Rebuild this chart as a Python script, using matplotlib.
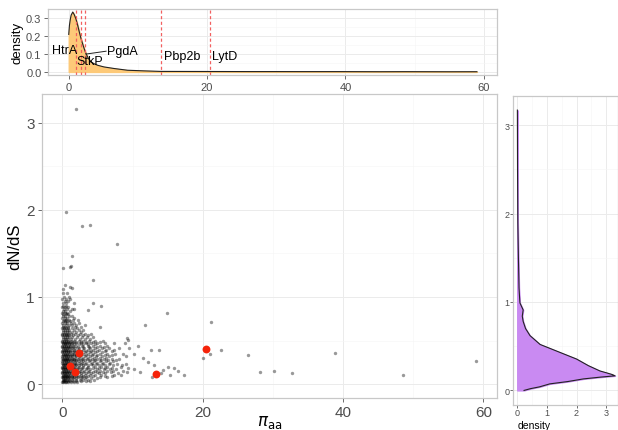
import matplotlib
matplotlib.use("Agg")
import matplotlib.pyplot as plt
from matplotlib.ticker import MultipleLocator

plt.rcParams['font.family'] = ['Liberation Sans', 'DejaVu Sans']

# density of pi_aa (top panel)
pi_grid = [0, 0.1, 0.23, 0.35, 0.58, 0.8, 1.05, 1.3, 1.53, 1.75, 2.0, 2.25, 2.5, 2.8, 3.2, 3.7,
           4.2, 5.1, 6.6, 8.5, 10.9, 13.3, 20, 26, 30, 33, 39, 45, 48.5, 55, 59]
pi_density = [0.21, 0.26, 0.295, 0.318, 0.335, 0.32, 0.295, 0.26, 0.223, 0.19, 0.158, 0.128,
              0.102, 0.078, 0.056, 0.045, 0.037, 0.028, 0.019, 0.0095, 0.006, 0.003, 0.0025,
              0.002, 0.002, 0.0018, 0.0018, 0.0012, 0.0015, 0.001, 0.0012]

# density of dN/dS (right panel)
dnds_grid = [0, 0.02, 0.04, 0.074, 0.10, 0.13, 0.15, 0.165, 0.18, 0.20, 0.22, 0.28, 0.355, 0.43,
             0.52, 0.62, 0.70, 0.78, 0.84, 0.91, 0.99, 1.16, 1.5, 1.9, 2.5, 3.17]
dnds_density = [0.23, 0.45, 0.75, 1.1, 1.7, 2.23, 2.8, 3.3, 3.2, 3.0, 2.79, 2.4, 2.0, 1.44,
                0.77, 0.43, 0.28, 0.2, 0.17, 0.2, 0.09, 0.06, 0.04, 0.02, 0.01, 0.005]

# highlighted genes
gene_names = ['HtrA', 'StkP', 'PgdA', 'Pbp2b', 'LytD']
gene_pi = [1.1, 1.8, 2.4, 13.4, 20.4]
gene_dnds = [0.205, 0.14, 0.36, 0.114, 0.40]
label_x = [-0.6, 3.1, 7.8, 13.7, 20.7]
label_y = [0.123, 0.059, 0.115, 0.091, 0.091]

# dense cloud near the origin, row by row: (dN/dS, [pi_aa ...])
core_rows = [
    (0.02, [0.0, 0.1, 0.3, 0.5, 0.8, 1.2, 1.6, 2.1]),
    (0.05, [0.05, 0.2, 0.4, 0.7, 1.0, 1.4, 1.9, 2.5, 3.0, 3.6, 4.5]),
    (0.08, [0.0, 0.15, 0.35, 0.6, 0.9, 1.3, 1.7, 2.2, 2.8, 3.4, 5.4, 6.3]),
    (0.11, [0.1, 0.3, 0.5, 0.8, 1.1, 1.5, 2.0, 2.6, 3.2, 3.9, 4.6, 5.5, 7.4, 8.3]),
    (0.14, [0.0, 0.2, 0.45, 0.7, 1.0, 1.4, 1.8, 2.3, 2.9, 3.6, 4.3, 4.9, 5.8, 6.9, 9.2]),
    (0.17, [0.1, 0.3, 0.55, 0.85, 1.2, 1.6, 2.1, 2.7, 3.3, 4.0, 5.0, 5.9, 6.8, 7.7, 10.2]),
    (0.20, [0.0, 0.2, 0.4, 0.65, 0.95, 1.3, 1.75, 2.3, 2.9, 3.7, 4.6, 5.5, 6.4, 8.4]),
    (0.23, [0.1, 0.35, 0.6, 0.9, 1.2, 1.6, 2.0, 2.6, 3.2, 4.1, 4.8, 5.6, 6.6, 7.8, 9.0]),
    (0.26, [0.0, 0.25, 0.5, 0.8, 1.1, 1.5, 1.9, 2.4, 3.0, 3.8, 4.5, 5.3, 6.2, 7.2]),
    (0.29, [0.1, 0.3, 0.6, 0.9, 1.3, 1.7, 2.2, 2.8, 3.5, 4.2, 5.0, 5.9, 7.0, 8.1]),
    (0.32, [0.0, 0.2, 0.45, 0.75, 1.05, 1.4, 1.9, 2.5, 3.2, 4.0, 4.8, 5.7, 6.7, 9.1]),
    (0.35, [0.1, 0.35, 0.6, 0.9, 1.3, 1.7, 2.2, 2.9, 3.6, 4.4, 5.3, 6.3, 7.5, 8.6]),
    (0.38, [0.0, 0.25, 0.5, 0.8, 1.15, 1.6, 2.1, 2.7, 3.4, 4.1, 5.0, 6.0, 7.1]),
    (0.41, [0.1, 0.3, 0.6, 0.95, 1.3, 1.8, 2.4, 3.1, 3.9, 4.7, 5.6, 6.7, 8.0, 9.5]),
    (0.44, [0.0, 0.2, 0.45, 0.75, 1.1, 1.5, 2.0, 2.8, 3.6, 4.4, 5.3, 6.4]),
    (0.47, [0.1, 0.35, 0.65, 1.0, 1.4, 1.9, 2.6, 3.3, 4.1, 5.0, 6.1, 7.3]),
    (0.50, [0.0, 0.25, 0.5, 0.85, 1.2, 1.7, 2.3, 3.0, 3.8, 4.7, 5.8]),
    (0.54, [0.1, 0.3, 0.6, 0.95, 1.4, 2.1, 2.8, 3.5, 4.4]),
    (0.58, [0.0, 0.2, 0.5, 0.8, 1.2, 1.8, 2.5, 3.2, 4.1]),
    (0.62, [0.05, 0.3, 0.6, 1.0, 1.6, 2.3, 3.0]),
    (0.66, [0.1, 0.4, 0.8, 1.8, 2.6]),
    (0.70, [0.0, 0.3, 0.7, 1.2, 1.7, 2.4]),
    (0.74, [0.2, 0.5, 0.9, 1.5, 2.2]),
    (0.78, [0.1, 0.4, 1.0, 1.4]),
    (0.82, [0.0, 0.3, 0.7]),
    (0.86, [0.2, 0.6, 1.3, 1.6]),
    (0.90, [0.1, 0.5]),
    (0.95, [0.3, 0.8]),
    (1.00, [0.2, 0.9]),
    (1.05, [0.1, 0.6]),
]

# second pass over the same cloud, between the rows above
between_rows = [
    (0.035, [0.05, 0.25, 0.55, 0.85, 1.15, 1.5, 2.0, 2.6, 3.3, 4.0]),
    (0.065, [0.1, 0.3, 0.5, 0.75, 1.1, 1.5, 2.0, 2.6, 3.2, 4.1, 5.0]),
    (0.095, [0.05, 0.25, 0.45, 0.7, 1.0, 1.4, 1.9, 2.4, 3.0, 3.7, 4.4, 6.0, 7.0]),
    (0.125, [0.0, 0.2, 0.4, 0.65, 0.95, 1.25, 1.65, 2.1, 2.7, 3.4, 4.1, 5.2, 6.1, 7.9]),
    (0.155, [0.05, 0.25, 0.5, 0.75, 1.05, 1.45, 1.9, 2.5, 3.1, 3.8, 4.6, 5.4, 6.4, 7.2, 8.6]),
    (0.185, [0.0, 0.15, 0.35, 0.6, 0.9, 1.25, 1.65, 2.2, 2.8, 3.5, 4.3, 5.2, 6.1, 7.0, 9.4]),
    (0.215, [0.05, 0.25, 0.5, 0.8, 1.1, 1.5, 1.9, 2.4, 3.0, 3.6, 4.4, 5.2, 6.0, 7.2, 8.5]),
    (0.245, [0.0, 0.2, 0.45, 0.7, 1.0, 1.35, 1.8, 2.3, 2.8, 3.4, 4.2, 4.9, 5.8, 6.8]),
    (0.275, [0.05, 0.3, 0.55, 0.85, 1.2, 1.6, 2.0, 2.6, 3.2, 3.9, 4.7, 5.5, 6.5, 7.6]),
    (0.305, [0.0, 0.2, 0.45, 0.7, 1.0, 1.4, 1.8, 2.3, 3.0, 3.7, 4.5, 5.3, 6.2]),
    (0.335, [0.05, 0.3, 0.55, 0.85, 1.2, 1.6, 2.0, 2.6, 3.4, 4.2, 5.0, 6.0, 7.0]),
    (0.365, [0.0, 0.2, 0.45, 0.75, 1.05, 1.45, 1.9, 2.5, 3.2, 3.9, 4.7, 5.6]),
    (0.395, [0.05, 0.3, 0.55, 0.85, 1.2, 1.6, 2.2, 2.9, 3.6, 4.4, 5.2, 6.2, 7.4]),
    (0.425, [0.0, 0.2, 0.45, 0.75, 1.1, 1.5, 2.2, 3.0, 3.8, 4.9, 5.9]),
    (0.455, [0.05, 0.3, 0.55, 0.9, 1.25, 1.7, 2.3, 3.0, 3.7, 4.6]),
    (0.485, [0.0, 0.2, 0.45, 0.75, 1.1, 1.5, 2.0, 2.7, 3.4, 4.3, 5.3]),
    (0.52, [0.05, 0.3, 0.55, 0.85, 1.25, 1.8, 2.5, 3.2, 3.9]),
    (0.56, [0.0, 0.25, 0.45, 0.7, 1.0, 1.5, 2.2, 2.9, 3.7]),
    (0.60, [0.1, 0.35, 0.65, 0.9, 1.3, 2.0, 2.7]),
    (0.64, [0.0, 0.2, 0.5, 0.85, 1.3, 2.1]),
    (0.68, [0.15, 0.45, 0.9, 1.4, 2.0, 3.2]),
    (0.72, [0.05, 0.35, 0.6, 1.1]),
    (0.76, [0.0, 0.3, 0.7, 1.7]),
    (0.80, [0.15, 0.5, 0.85]),
    (0.84, [0.05, 0.4, 1.1]),
    (0.88, [0.0, 0.35, 0.8]),
    (0.93, [0.15, 0.55, 1.6]),
    (0.98, [0.0, 0.45, 1.1]),
]

# scattered genes away from the cloud
sparse_pi = [9.2, 9.4, 12.6, 13.7, 17.3, 15.9, 15.4, 14.3, 15.0, 11.5, 12.2, 10.8, 13.0, 14.0,
             16.5, 11.0, 12.8, 10.2, 8.9, 5.4, 3.7, 5.5, 4.4, 11.8, 14.9, 21.2, 20.1, 21.0,
             22.6, 26.5, 28.2, 30.2, 32.7, 38.9, 48.5, 59.0,
             1.92, 0.54, 2.82, 3.96, 7.75, 1.3, 0.07, 1.1, 1.2, 4.4, 0.35, 1.07, 1.3, 0.07]
sparse_dnds = [0.53, 0.51, 0.39, 0.39, 0.11, 0.19, 0.11, 0.16, 0.20, 0.30, 0.25, 0.44, 0.22, 0.13,
               0.15, 0.14, 0.08, 0.35, 0.47, 0.65, 0.85, 0.90, 0.93, 0.68, 0.82, 0.71, 0.30, 0.35,
               0.39, 0.335, 0.137, 0.153, 0.125, 0.36, 0.107, 0.26,
               3.16, 1.98, 1.82, 1.83, 1.61, 1.47, 1.33, 1.34, 1.36, 1.19, 1.14, 1.12, 1.10, 1.09]

rows = core_rows + between_rows
all_pi = [p for d, row in rows for p in row] + sparse_pi
all_dnds = [d for d, row in rows for p in row] + sparse_dnds

border = '#c8c8c8'
grid_major = '#ebebeb'
grid_minor = '#f5f5f5'
tick_col = '#4d4d4d'


def style(ax, size, pad=2.5, length=3):
    for s in ax.spines.values():
        s.set_color(border)
        s.set_linewidth(0.9)
    ax.grid(True, which='major', color=grid_major, lw=0.7)
    ax.grid(True, which='minor', color=grid_minor, lw=0.4)
    ax.set_axisbelow(True)
    ax.tick_params(which='major', colors='#555555', length=length, width=0.6, pad=pad,
                   labelsize=size, labelcolor=tick_col)
    ax.tick_params(which='minor', length=0)


fig = plt.figure(figsize=(6.18, 4.31), dpi=100)

# main scatter
ax = fig.add_axes([0.0675, 0.0742, 0.7367, 0.7053])
ax.scatter(all_pi, all_dnds, s=6, color='black', alpha=0.4, linewidths=0)
ax.scatter(gene_pi, gene_dnds, s=32, color='#f5230a', linewidths=0, zorder=3)
ax.set_xlim(-2.95, 61.95)
ax.set_ylim(-0.16, 3.33)
ax.xaxis.set_major_locator(MultipleLocator(20))
ax.xaxis.set_minor_locator(MultipleLocator(10))
ax.yaxis.set_major_locator(MultipleLocator(1))
ax.yaxis.set_minor_locator(MultipleLocator(0.5))
style(ax, 11, pad=2)
ax.set_xlabel(r'$\pi_{\rm aa}$', fontsize=12)
ax.xaxis.set_label_coords(0.5, -0.05)
ax.set_ylabel('dN/dS', fontsize=12, labelpad=3)

# top density of pi_aa
axt = fig.add_axes([0.0782, 0.8237, 0.7265, 0.1531])
axt.fill_between(pi_grid, 0, pi_density, color='#fdc978')
axt.plot(pi_grid, pi_density, color='#222222', lw=0.8)
for p in gene_pi:
    axt.axvline(p, color='#f26060', ls=(0, (2.5, 2)), lw=0.9)
for name, lx, ly in zip(gene_names, label_x, label_y):
    ha = 'left' if name in ('Pbp2b', 'LytD') else 'center'
    axt.text(lx, ly, name, fontsize=9, ha=ha, va='center', color='black')
axt.plot([2.5, 5.4], [0.10, 0.116], color='#222222', lw=0.7)
axt.set_xlim(-2.95, 61.95)
axt.set_ylim(-0.017, 0.352)
axt.xaxis.set_major_locator(MultipleLocator(20))
axt.xaxis.set_minor_locator(MultipleLocator(10))
axt.yaxis.set_major_locator(MultipleLocator(0.1))
axt.yaxis.set_minor_locator(MultipleLocator(0.05))
axt.yaxis.set_major_formatter(plt.FormatStrFormatter('%.1f'))
style(axt, 8, pad=2)
axt.set_ylabel('density', fontsize=9.5, labelpad=2)

# right density of dN/dS
axr = fig.add_axes([0.830, 0.058, 0.170, 0.717])
axr.fill_betweenx(dnds_grid, 0, dnds_density, color='#c98af2')
axr.plot(dnds_density, dnds_grid, color='#222222', lw=0.8)
axr.set_xlim(-0.145, 3.40)
axr.set_ylim(-0.165, 3.33)
axr.xaxis.set_major_locator(MultipleLocator(1))
axr.xaxis.set_minor_locator(MultipleLocator(0.5))
axr.yaxis.set_major_locator(MultipleLocator(1))
axr.yaxis.set_minor_locator(MultipleLocator(0.5))
style(axr, 6.5, pad=0.5, length=2)
axr.set_xlabel('density', fontsize=7.5)
axr.xaxis.set_label_coords(0.2, -0.047)

fig.savefig('out.png', dpi=100)
